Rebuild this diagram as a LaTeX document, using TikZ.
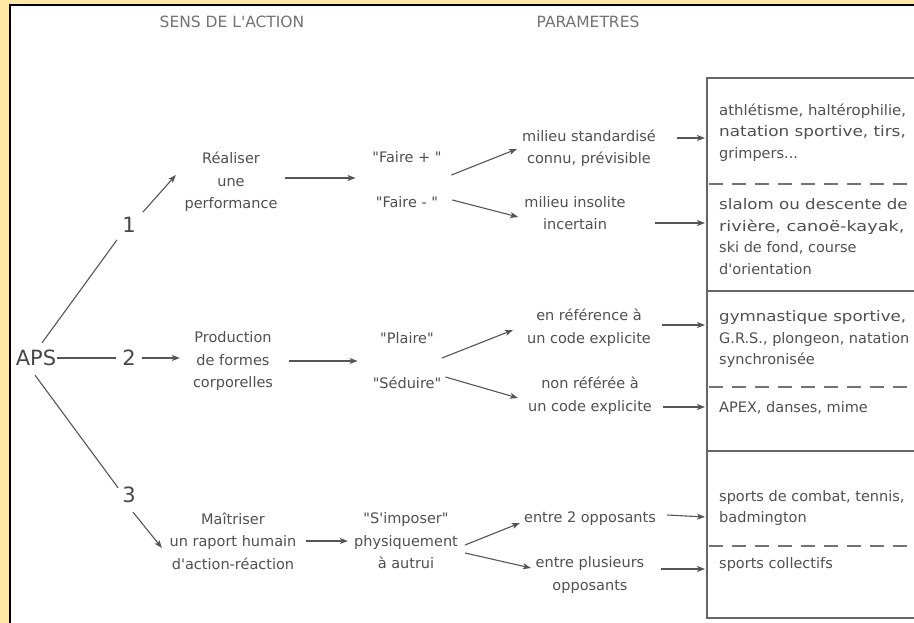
\documentclass[tikz,border=0pt]{standalone}
\usepackage{fontspec}
\setmainfont{DejaVu Sans}[Ligatures=TeXOff]
\usetikzlibrary{arrows.meta,calc}
\definecolor{ink}{HTML}{555555}
\definecolor{txt}{HTML}{505050}
\definecolor{frameyel}{HTML}{FFE7A6}
\newcommand\jl[2]{\scalebox{#1}[1]{#2}}
\begin{document}
\begin{tikzpicture}[x=1pt,y=-1pt,
  lbl/.style={font=\fontsize{14.5}{22.5}\selectfont, align=center, inner sep=0pt, text=txt},
  boxtxt/.style={font=\fontsize{14.5}{21.7}\selectfont, align=left, inner sep=0pt, text=txt, anchor=west},
  big/.style={font=\fontsize{21}{21}\selectfont, inner sep=0pt, text=black!72},
  head/.style={font=\fontsize{15.5}{15.5}\selectfont, inner sep=0pt, text=black!55},
  arr/.style={draw=ink, line width=1.1pt, -{Stealth[length=8pt,width=6pt,inset=2pt]}},
  ln/.style={draw=ink, line width=1.1pt},
  boxline/.style={draw=black!60, line width=1.3pt},
  dashline/.style={draw=black!55, line width=1.1pt, dash pattern=on 14pt off 9pt}]
\fill[white] (0,0) rectangle (914,623);
\useasboundingbox (0,0) rectangle (914,623);
\fill[frameyel] (0,0) rectangle (8.5,623);
\fill[frameyel] (0,0) rectangle (914,4.5);
\draw[black, line width=2pt] (9.5,623) -- (9.5,5.5) -- (914,5.5);

% table on the right
\draw[boxline] (914,78) -- (707,78) -- (707,618) -- (914,618);
\draw[boxline] (707,291) -- (914,291);
\draw[boxline] (707,451) -- (914,451);
\draw[dashline] (709,184) -- (914,184);
\draw[dashline] (709,387) -- (914,387);
\draw[dashline] (709,546) -- (914,546);

% headers
\node[head] (h1) at (232,22) {SENS DE L'ACTION};
\node[head] (h2) at (588,22) {PARAMETRES};

% left part
\node[big] (aps) at (36,358) {APS};
\node[big] (n1) at (129,225) {1};
\node[big] (n2) at (129,358) {2};
\node[big] (n3) at (129,495) {3};
\node[lbl] (real) at (231,182) {Réaliser\\une\\performance};
\node[lbl] (prod) at (233,361) {Production\\de formes\\corporelles};
\node[lbl] (maitr) at (233,541) {Maîtriser\\un raport humain\\d'action-réaction};
\node[lbl] (fp) at (407,157) {"Faire + "};
\node[lbl] (fm) at (407,202) {"Faire - "};
\node[lbl] (plaire) at (407,338) {"Plaire"};
\node[lbl] (seduire) at (407,383) {"Séduire"};
\node[lbl] (simp) at (406,541) {"S'imposer"\\physiquement\\à autrui};
\node[lbl] (mstd) at (589,148) {milieu standardisé\\connu, prévisible};
\node[lbl] (mins) at (575,213) {milieu insolite\\incertain};
\node[lbl] (enref) at (589,327.5) {en référence à\\un code explicite};
\node[lbl] (nonref) at (590,395.5) {non référée à\\un code explicite};
\node[lbl] (e2) at (590,519) {entre 2 opposants};
\node[lbl] (eplus) at (590,575) {entre plusieurs\\opposants};

% box texts
\node[boxtxt] (b1) at (719,132.5) {\jl{1.03}{athlétisme, haltérophilie,}\\\jl{1.16}{natation sportive, tirs,}\\grimpers...};
\node[boxtxt] (b2) at (719,236.5) {\jl{1.15}{slalom ou descente de}\\\jl{1.22}{rivière, canoë-kayak,}\\ski de fond, course\\d'orientation};
\node[boxtxt] (b3) at (719,339) {\jl{1.15}{gymnastique sportive,}\\G.R.S., plongeon, natation\\synchronisée};
\node[boxtxt] (b4) at (719,408) {APEX, danses, mime};
\node[boxtxt] (b5) at (719,508) {sports de combat, tennis,\\badmington};
\node[boxtxt] (b6) at (719,564) {sports collectifs};

% connectors
\draw[ln] ($(aps.east)+(1,0)$) -- ($(n2.west)+(-6,0)$);
\draw[arr] ($(n2.east)+(6,0)$) -- ($(prod.west |- n2.east)+(-13,0)$);
\draw[ln] ($(aps.north)+(6,-7)$) -- ($(n1.south)+(-12,7)$);
\draw[arr] ($(n1.north east)+(7,-5)$) -- ($(real.west)+(-8.5,-7)$);
\draw[ln] ($(aps.south)+(-1,9)$) -- ($(n3.north west)+(-4,1)$);
\draw[arr] ($(n3.south)+(4,9)$) -- ($(maitr.west)+(-7.5,7)$);

\draw[arr] ($(real.east)+(7.5,-4)$) -- ($(fp.west |- real.east)+(-16.6,-4)$);
\draw[arr] ($(prod.east)+(16,0)$) -- ($(seduire.west |- prod.east)+(-15,0)$);
\draw[arr] ($(maitr.east)+(9.5,0)$) -- ($(simp.west |- maitr.east)+(-6,0)$);

\draw[arr] ($(fp.east)+(9.6,18)$) -- ($(mstd.west)+(-5,1)$);
\draw[arr] ($(fm.east)+(14,-2)$) -- ($(mins.west)+(-6,4)$);
\draw[arr] ($(plaire.east)+(8,20)$) -- ($(enref.west)+(-14,2.5)$);
\draw[arr] ($(seduire.east)+(4,-6)$) -- ($(nonref.west)+(-10,2.5)$);
\draw[arr] ($(simp.east)+(7,4)$) -- ($(e2.west)+(-4,4)$);
\draw[arr] ($(simp.east)+(7,12)$) -- ($(eplus.west)+(-4.6,-7)$);

\draw[arr] ($(mstd.east)+(21,-10)$) -- ($(b1.west)+(-14,5.5)$);
\draw[arr] ($(mins.east)+(29,10)$) -- ($(b2.west)+(-14,-13.5)$);
\draw[arr] ($(enref.east)+(11,-2.5)$) -- ($(b3.west)+(-14,-14)$);
\draw[arr] ($(nonref.east)+(11,11.5)$) -- ($(b4.west)+(-14,-1)$);
\draw[arr] ($(e2.east)+(11,-4)$) -- ($(b5.west)+(-14,9)$);
\draw[arr] ($(eplus.east)+(16,-6)$) -- ($(b6.west)+(-14,5)$);
\end{tikzpicture}
\end{document}
